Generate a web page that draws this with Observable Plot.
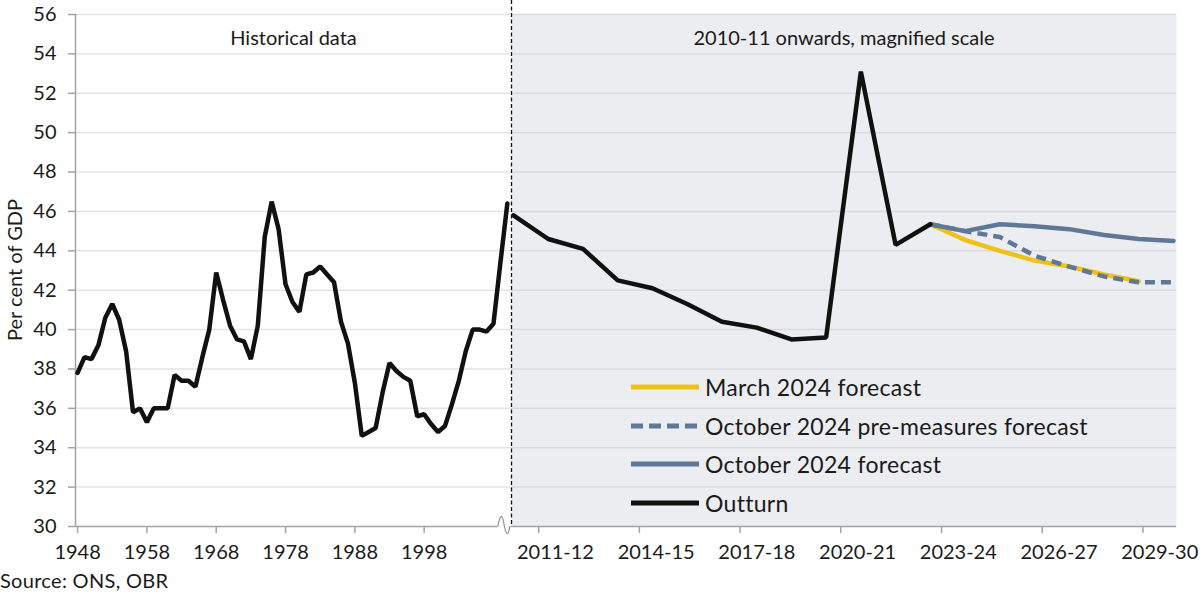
<!DOCTYPE html>
<html>
<head>
<meta charset="utf-8">
<script src="https://cdn.jsdelivr.net/npm/d3@7"></script>
<script src="https://cdn.jsdelivr.net/npm/@observablehq/plot@0.6"></script>
<style>
  body { margin: 0; background: #fff; }
  #chart { position: relative; width: 1200px; height: 595px; font-family: Lato, "Noto Sans", sans-serif; color: #1a1a1a; }
  #chart svg.plot-layer { position: absolute; left: 0; top: 0; }
  #legend { position: absolute; left: 631px; top: 368px; font-size: 23px; letter-spacing: 0.3px; }
  #legend .row { display: flex; align-items: center; height: 38.5px; }
  #legend svg { margin-right: 6px; }
  #source { position: absolute; left: 0; top: 568px; font-size: 20px; letter-spacing: 0.3px; }
</style>
</head>
<body>
<div id="chart"></div>
<script>
// ---------- data ----------
const histYears = [1948,1949,1950,1951,1952,1953,1954,1955,1956,1957,1958,1959,1960,1961,1962,1963,1964,1965,1966,1967,
  1968,1969,1970,1971,1972,1973,1974,1975,1976,1977,1978,1979,1980,1981,1982,1983,1984,1985,1986,1987,
  1988,1989,1990,1991,1992,1993,1994,1995,1996,1997,1998,1999,2000,2001,2002,2003,2004,2005,2006,2007,
  2008,2009,2010];
const histValues = [37.8,38.6,38.5,39.2,40.6,41.3,40.5,38.9,35.8,36.0,35.3,36.0,36.0,36.0,37.7,37.4,37.4,37.1,38.6,40.0,
  42.9,41.5,40.2,39.5,39.4,38.5,40.2,44.7,46.5,45.1,42.3,41.4,40.9,42.8,42.9,43.2,42.8,42.4,40.4,39.3,
  37.3,34.6,34.8,35.0,36.8,38.3,37.9,37.6,37.4,35.6,35.7,35.2,34.8,35.1,36.2,37.4,38.9,40.0,40.0,39.9,
  40.3,43.4,46.4];

const fiscalYears = ["2010-11","2011-12","2012-13","2013-14","2014-15","2015-16","2016-17","2017-18","2018-19","2019-20",
  "2020-21","2021-22","2022-23","2023-24","2024-25","2025-26","2026-27","2027-28","2028-29","2029-30"];
const outturnValues = [45.8,44.6,44.1,42.5,42.1,41.3,40.4,40.1,39.5,39.6,53.1,44.3,45.35];

// forecasts start at 2022-23
const forecastStart = "2022-23";
const march2024Values = [45.35,44.55,44.0,43.5,43.2,42.8,42.45];
const octPreValues = [45.35,45.0,44.7,43.75,43.2,42.7,42.4,42.4];
const oct2024Values = [45.35,45.0,45.35,45.25,45.1,44.8,44.6,44.5];

const yTicks = [30,32,34,36,38,40,42,44,46,48,50,52,54,56];
const histTickLabels = [1948,1958,1968,1978,1988,1998];
const fiscalTickLabels = ["2011-12","2014-15","2017-18","2020-21","2023-24","2026-27","2029-30"];
const panelTitles = ["Historical data", "2010-11 onwards, magnified scale"];
const yLabel = "Per cent of GDP";
const sourceText = "Source: ONS, OBR";

const seriesNames = ["March 2024 forecast", "October 2024 pre-measures forecast", "October 2024 forecast", "Outturn"];

// ---------- tables ----------
const hist = histYears.map((year, i) => ({year, value: histValues[i]}));
const outturn = outturnValues.map((value, i) => ({fy: fiscalYears[i], value}));
const f0 = fiscalYears.indexOf(forecastStart);
const mar = march2024Values.map((value, i) => ({fy: fiscalYears[f0 + i], value}));
const pre = octPreValues.map((value, i) => ({fy: fiscalYears[f0 + i], value}));
const oct = oct2024Values.map((value, i) => ({fy: fiscalYears[f0 + i], value}));

// ---------- styles / layout ----------
const C = {
  outturn: "#111111",
  march: "#EFC21A",
  oct: "#5F7896",
  grid: "#e4e4e4",
  gridShade: "#dadbe0",
  shade: "#ECEDF1",
  axis: "#a3a3a3",
  text: "#1a1a1a"
};
const W = 1200, H = 560, MT = 14, MB = 34;
const splitX = 511;               // pixel where panels meet
const rightEdge = 1176;           // right edge of plotting area
const xLeftDomain = [1947.7, 2010.6];
const lineRange = [513, 1173];    // where the fiscal-year points sit
const axisRange = [504.6, rightEdge]; // category axis bands (labels centred, ticks between)
const titleDy = 30 - MT;

const baseStyle = {fontFamily: "Lato, 'Noto Sans', sans-serif", fontSize: "20px", color: C.text, background: "transparent", overflow: "visible"};

// right panel: shaded, magnified scale
const right = Plot.plot({
  width: W, height: H,
  marginLeft: splitX, marginRight: W - rightEdge, marginTop: MT, marginBottom: MB,
  style: baseStyle,
  x: {type: "point", domain: fiscalYears, range: lineRange, padding: 0, round: false, axis: null},
  y: {domain: [30, 56], axis: null},
  marks: [
    Plot.frame({fill: C.shade, stroke: null}),
    Plot.ruleY(yTicks.slice(1), {stroke: C.gridShade, strokeWidth: 1.5}),
    Plot.ruleY([30], {stroke: C.axis, strokeWidth: 1.5}),
    Plot.line(mar, {x: "fy", y: "value", stroke: C.march, strokeWidth: 4.5}),
    Plot.line(pre, {x: "fy", y: "value", stroke: C.oct, strokeWidth: 4.5, strokeDasharray: "10,6", strokeLinecap: "butt"}),
    Plot.line(oct, {x: "fy", y: "value", stroke: C.oct, strokeWidth: 4.5}),
    Plot.line(outturn, {x: "fy", y: "value", stroke: C.outturn, strokeWidth: 4.5, strokeLinejoin: "miter"}),
    Plot.ruleX([fiscalYears[0]], {dx: -2, stroke: "#111", strokeWidth: 1.3, strokeDasharray: "4,2.5", insetTop: -MT}),
    Plot.text([panelTitles[1]], {text: d => d, frameAnchor: "top", dy: titleDy, fill: C.text, fontSize: 20})
  ]
});

// right panel category axis (band scale: labels centred on categories, ticks on boundaries)
const bandStep = (axisRange[1] - axisRange[0]) / fiscalYears.length;
const rightAxis = Plot.plot({
  width: W, height: H,
  marginLeft: splitX, marginRight: W - rightEdge, marginTop: MT, marginBottom: MB,
  style: baseStyle,
  x: {type: "band", domain: fiscalYears, range: axisRange, padding: 0, round: false},
  y: {domain: [30, 56], axis: null},
  marks: [
    Plot.axisX({ticks: fiscalTickLabels, tickSize: 7, tickFormat: () => "", dx: -bandStep / 2, stroke: C.axis, strokeWidth: 1.5, label: null}),
    Plot.axisX({ticks: fiscalTickLabels, tickSize: 0, tickPadding: 18, fill: C.text, label: null})
  ]
});

// left panel: historical data
const left = Plot.plot({
  width: W, height: H,
  marginLeft: 75, marginRight: W - splitX, marginTop: MT, marginBottom: MB,
  style: baseStyle,
  x: {type: "linear", domain: xLeftDomain},
  y: {domain: [30, 56]},
  marks: [
    Plot.ruleY(yTicks.slice(1), {stroke: C.grid, strokeWidth: 1.5}),
    Plot.ruleY([30], {stroke: C.axis, strokeWidth: 1.5, insetRight: 13}),
    Plot.ruleX([xLeftDomain[0]], {stroke: C.axis, strokeWidth: 1.5}),
    Plot.axisY({ticks: yTicks, tickSize: 7, tickPadding: 12, stroke: C.axis, strokeWidth: 1.5, fill: C.text, label: null}),
    Plot.axisX({ticks: histTickLabels, tickSize: 7, tickPadding: 11, tickFormat: d => String(d), stroke: C.axis, strokeWidth: 1.5, fill: C.text, label: null}),
    Plot.line(hist, {x: "year", y: "value", stroke: C.outturn, strokeWidth: 4.5, strokeLinejoin: "miter"}),
    Plot.text([panelTitles[0]], {text: d => d, frameAnchor: "top", dy: titleDy, fill: C.text, fontSize: 20})
  ]
});

const chart = document.getElementById("chart");
[right, rightAxis, left].forEach(svg => { svg.classList.add("plot-layer"); chart.appendChild(svg); });

// axis break squiggle and y label (decoration on the left layer)
const ls = d3.select(left);
const yb = H - MB;
const xb = splitX - 13;
ls.append("path")
  .attr("d", `M${xb},${yb} Q${xb + 3},${yb - 18} ${xb + 6},${yb - 2} Q${xb + 9},${yb + 16} ${xb + 12},${yb}`)
  .attr("fill", "none").attr("stroke", "#909090").attr("stroke-width", 1.2);
ls.append("text")
  .attr("transform", `translate(17,${(MT + H - MB) / 2}) rotate(-90)`)
  .attr("text-anchor", "middle").attr("dominant-baseline", "middle")
  .attr("font-size", 20).attr("fill", C.text)
  .text(yLabel);

// legend
const legendStyles = [
  {stroke: C.march, dash: null},
  {stroke: C.oct, dash: "12,6"},
  {stroke: C.oct, dash: null},
  {stroke: C.outturn, dash: null}
];
const legend = d3.select(chart).append("div").attr("id", "legend");
seriesNames.forEach((name, i) => {
  const row = legend.append("div").attr("class", "row");
  const s = row.append("svg").attr("width", 68).attr("height", 10);
  s.append("line").attr("x1", 0).attr("x2", 68).attr("y1", 5).attr("y2", 5)
    .attr("stroke", legendStyles[i].stroke).attr("stroke-width", 5)
    .attr("stroke-dasharray", legendStyles[i].dash);
  row.append("span").text(name);
});

d3.select(chart).append("div").attr("id", "source").text(sourceText);
</script>
</body>
</html>
